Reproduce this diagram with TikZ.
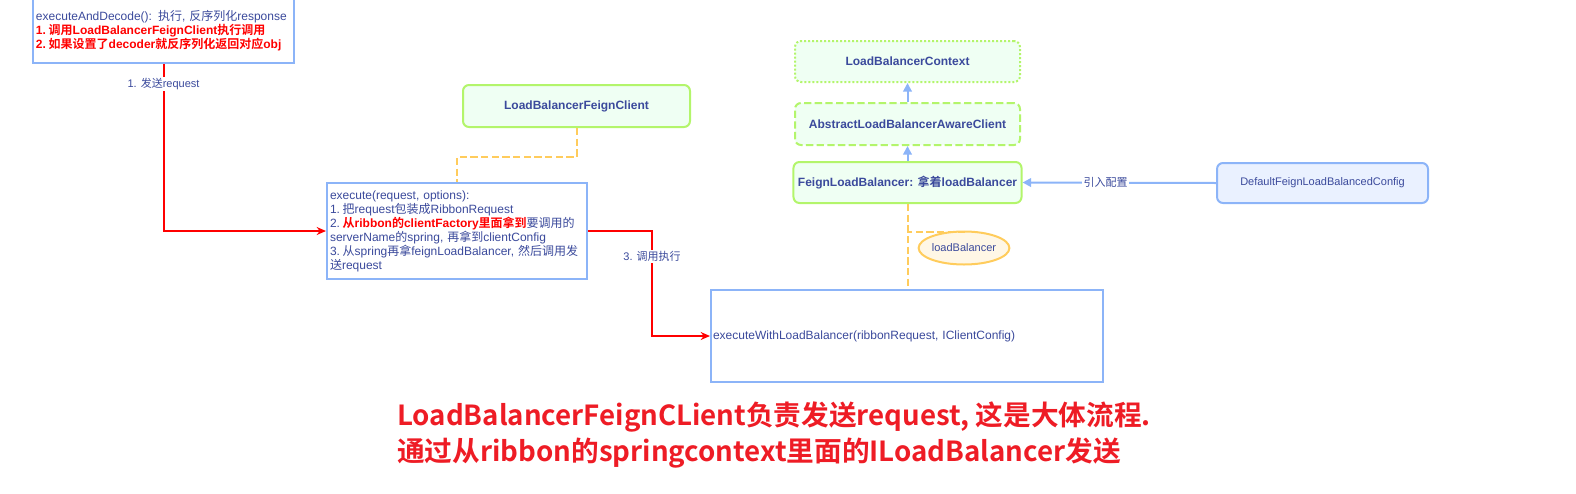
\documentclass[tikz,border=0pt]{standalone}
\usepackage{fontspec}
\setmainfont{Liberation Sans}
\newfontfamily\cjk{Noto Sans CJK SC}[BoldFont={Noto Sans CJK SC Bold}]
\usepackage{xcolor}
\usetikzlibrary{positioning,arrows.meta,shapes.geometric}
\definecolor{txtblue}{HTML}{3B4A9C}
\definecolor{boxblue}{HTML}{8CB4F8}
\definecolor{fillblue}{HTML}{EAF1FF}
\definecolor{boxgreen}{HTML}{B3F56B}
\definecolor{fillgreen}{HTML}{EFFFF3}
\definecolor{boxorange}{HTML}{FFCC5C}
\definecolor{fillorange}{HTML}{FFF7E6}
\definecolor{linered}{HTML}{FF0000}
\definecolor{notered}{HTML}{EE1C25}
\newcommand{\zh}[1]{{\cjk #1}}

\begin{document}
\begin{tikzpicture}[x=0.75pt,y=-0.75pt,
    every node/.style={font=\fontsize{9}{10.5}\selectfont, text=txtblue},
    codebox/.style={draw=boxblue, line width=1.5pt, fill=white, align=left, inner xsep=2.25pt},
    classbox/.style={draw=boxgreen, line width=1.5pt, fill=fillgreen, rounded corners=4.5pt,
        minimum width=168.75pt, minimum height=30.75pt, font=\bfseries\fontsize{9}{10.5}\selectfont},
    redline/.style={draw=linered, line width=1.5pt, -{Stealth[length=7pt,width=6pt]}},
    blueline/.style={draw=boxblue, line width=1.5pt, -{Triangle[length=6.5pt,width=6.5pt]}},
    orangedash/.style={draw=boxorange, line width=1.5pt, dash pattern=on 5.5pt off 2.5pt},
    edgelabel/.style={fill=white, inner sep=1pt, font=\fontsize{8.25}{10}\selectfont}]
\useasboundingbox (0,0) rectangle (1576,493);

% code boxes
\node (decode) [codebox, minimum width=195.75pt, minimum height=48.75pt, text width=191.25pt] at (163.5,30.5)
    {executeAndDecode(): \zh{执行}, \zh{反序列化}response\\
     \textcolor{linered}{\bfseries 1.\kern2pt\zh{调用}LoadBalancerFeignClient\zh{执行调用}}\\
     \textcolor{linered}{\bfseries 2.\kern2pt\zh{如果设置了}decoder\zh{就反序列化返回对应}obj}};
\node (execute) [codebox, minimum width=195pt, minimum height=72pt, text width=190.5pt] at (457,231)
    {execute(request, options):\\
     1.\kern2pt\zh{把}request\zh{包装成}RibbonRequest\\
     2.\kern2pt\textcolor{linered}{\bfseries\zh{从}ribbon\zh{的}clientFactory\zh{里面拿到}}\zh{要调用的}\\
     serverName\zh{的}spring, \zh{再拿到}clientConfig\\
     3.\kern2pt\zh{从}spring\zh{再拿}feignLoadBalancer, \zh{然后调用发}\\
     \zh{送}request};
\node (lbexec) [codebox, minimum width=294pt, minimum height=69pt, text width=291pt, inner xsep=1.5pt] at (907,336)
    {executeWithLoadBalancer(ribbonRequest, IClientConfig)};

% classes
\node (lbfc) [classbox, minimum width=170.25pt, minimum height=31.5pt] at (576.5,106) {LoadBalancerFeignClient};
\node (flb) [classbox] at (907.5,182.5) {FeignLoadBalancer: \zh{拿着}loadBalancer};
\node (albac) [classbox, minimum height=31.5pt, dash pattern=on 5.5pt off 2.5pt, above=11.25pt of flb] {AbstractLoadBalancerAwareClient};
\node (lbctx) [classbox, dash pattern=on 1.5pt off 1.5pt, above=14.25pt of albac] {LoadBalancerContext};
\node (defcfg) [draw=boxblue, line width=1.5pt, fill=fillblue, rounded corners=4.5pt,
    minimum width=158.25pt, minimum height=30pt, font=\fontsize{8.25}{10}\selectfont] at (1322.5,183)
    {DefaultFeignLoadBalancedConfig};
\node (lbnode) [ellipse, draw=boxorange, line width=1.5pt, fill=fillorange, minimum width=66pt,
    minimum height=24.75pt, inner sep=0pt, font=\fontsize{8.25}{10}\selectfont] at (964,248) {loadBalancer};

% connectors
\draw[redline] (decode.south) |- node[edgelabel, pos=0.06] {1. \zh{发送}request} (execute.west);
\draw[redline] (execute.east) -- ++(64,0) |- node[edgelabel, pos=0.12] {3. \zh{调用执行}} (lbexec.west);
\draw[orangedash] (lbfc.south) -- ++(0,29) -| (execute.north);
\draw[orangedash] (flb.south) -- (flb.south |- lbexec.north);
\coordinate (lbtap) at ([yshift=-21]flb.south);
\draw[orangedash] (lbnode.north) |- (lbtap);
\draw[blueline] (albac.north) -- (lbctx.south);
\draw[blueline] (flb.north) -- (albac.south);
\draw[blueline] (defcfg.west) -- node[edgelabel, pos=0.57] {\zh{引入配置}} (flb.east);

% note
\node (summary) [anchor=north west, align=left, text=notered, inner sep=0pt,
    font=\cjk\bfseries\fontsize{20.75}{27}\selectfont] at (397,402)
    {LoadBalancerFeignCLient负责发送request, 这是大体流程.\\
     通过从ribbon的springcontext里面的ILoadBalancer发送};
\end{tikzpicture}
\end{document}
